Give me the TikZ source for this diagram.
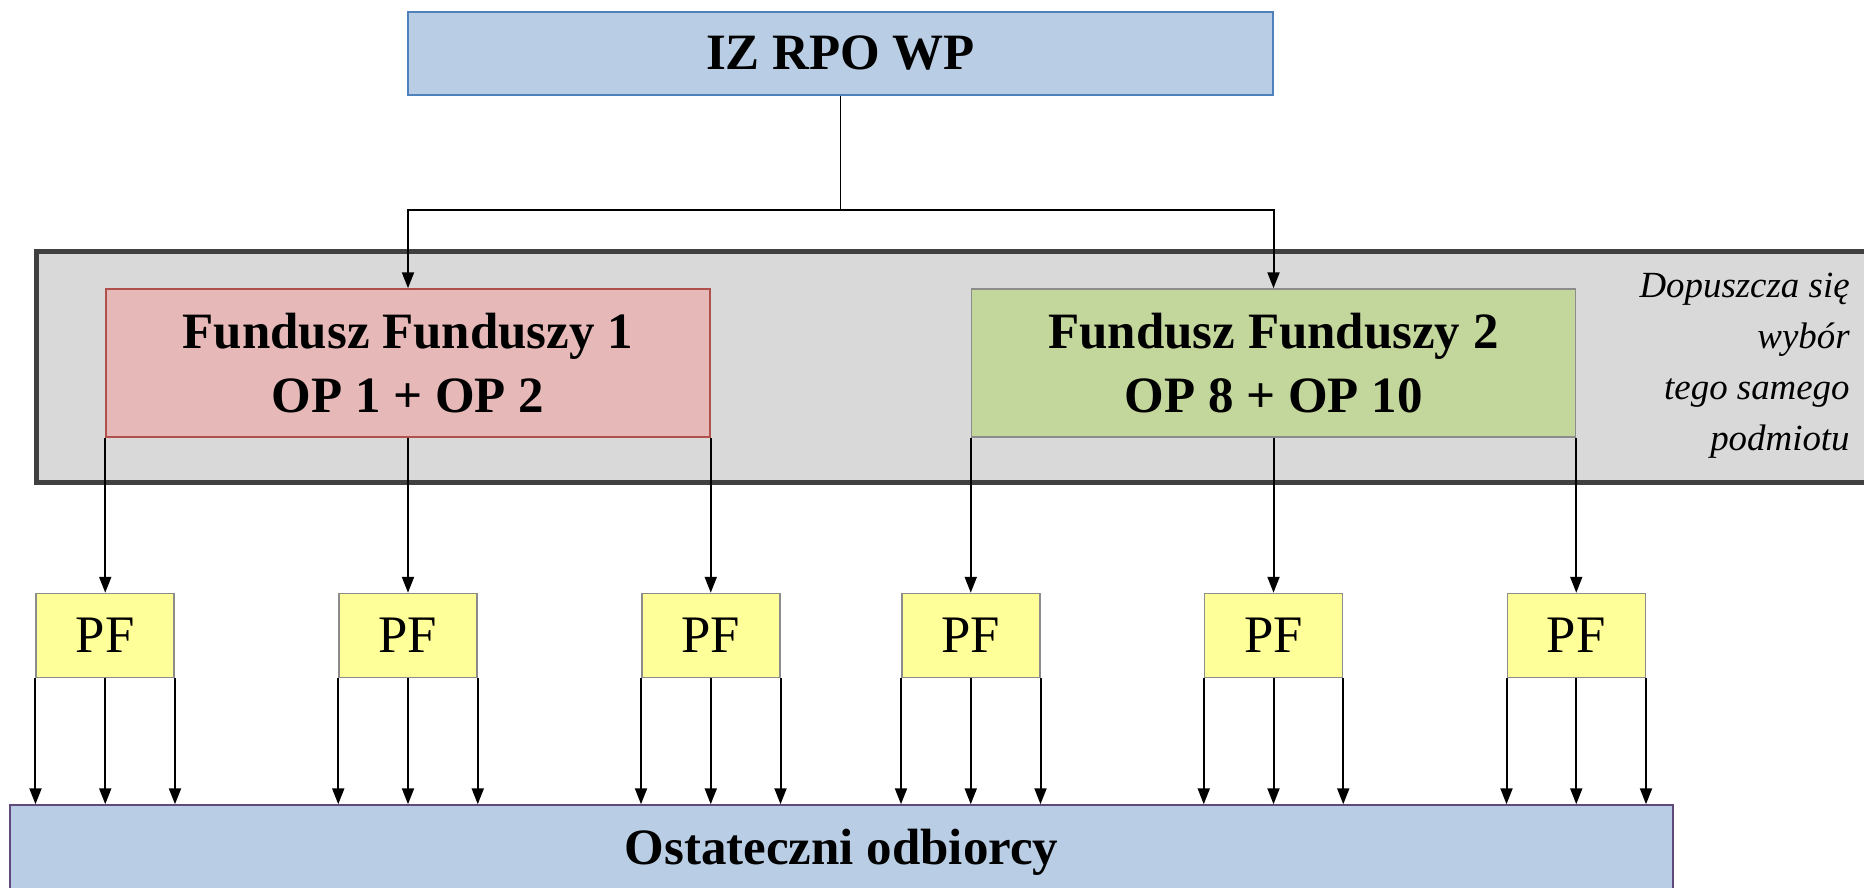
\documentclass[tikz,border=0pt]{standalone}
\usepackage{fontspec}
\setmainfont{Liberation Serif}
\usepackage{xcolor}
\usepackage{tikz}
\usetikzlibrary{arrows.meta,positioning}
\definecolor{izblue}{HTML}{B9CDE5}
\definecolor{izedge}{HTML}{4F81BD}
\definecolor{odedge}{HTML}{604A7B}
\definecolor{ffrose}{HTML}{E6B9B8}
\definecolor{ffroseedge}{HTML}{B0504D}
\definecolor{ffgreen}{HTML}{C3D69B}
\definecolor{pfyellow}{HTML}{FFFF99}
\definecolor{edgegray}{HTML}{8C8C8C}
\definecolor{panel}{HTML}{D9D9D9}
\definecolor{panedge}{HTML}{404040}
\tikzset{
  box/.style={draw=edgegray,line width=0.3mm,align=center,inner sep=0pt},
  boxiz/.style={box,draw=izedge,fill=izblue,minimum width=173mm,minimum height=16.6mm,font=\fontsize{29}{36}\selectfont\bfseries},
  boxff/.style={box,minimum width=120.8mm,minimum height=29.6mm,font=\fontsize{29}{36.4}\selectfont\bfseries},
  boxpf/.style={box,fill=pfyellow,minimum width=27.6mm,minimum height=16.8mm,font=\fontsize{30}{36}\selectfont},
  boxod/.style={box,draw=odedge,fill=izblue,minimum width=332.6mm,minimum height=18.8mm,font=\fontsize{29}{36}\selectfont\bfseries},
  panelbox/.style={draw=panedge,fill=panel,line width=1mm,inner sep=0pt},
  note/.style={font=\fontsize{21}{29}\selectfont\itshape,align=right,inner sep=0pt},
  arr/.style={-{Triangle[length=3.2mm,width=2.4mm]},line width=0.4mm},
}
\begin{document}
\begin{tikzpicture}[x=0.2mm,y=-0.2mm]
\useasboundingbox (0,0) rectangle (1864,887);
\clip (0,0) rectangle (1864,887);
\node[panelbox,minimum width=372.6mm,minimum height=46.2mm] (grp) at (968.5,366.5) {};
\node[boxiz] (iz) at (840.5,53.5) {IZ RPO WP};
\node[boxff,draw=ffroseedge,fill=ffrose] (ff1) at (408,363) {Fundusz Funduszy 1\\OP 1 + OP 2};
\node[boxff,fill=ffgreen] (ff2) at (1273.5,363) {Fundusz Funduszy 2\\OP 8 + OP 10};
\node[note,anchor=east] (uw) at (1850,366) {Dopuszcza się\\wybór\\tego samego\\podmiotu};
\coordinate (split) at (840.5,210);
\draw[line width=0.35mm](iz.south)--(split);
\draw[arr](split)-|(ff1.north);\draw[arr](split)-|(ff2.north);
% posrednicy finansowi
\node[boxpf,below=31mm of ff1.south west] (pf1) {PF};
\node[boxpf,below=31mm of ff1.south] (pf2) {PF};
\node[boxpf,below=31mm of ff1.south east] (pf3) {PF};
\node[boxpf,below=31mm of ff2.south west] (pf4) {PF};
\node[boxpf,below=31mm of ff2.south] (pf5) {PF};
\node[boxpf,below=31mm of ff2.south east] (pf6) {PF};
\draw[arr](ff1.south west)--(pf1);\draw[arr](ff1.south)--(pf2);\draw[arr](ff1.south east)--(pf3);
\draw[arr](ff2.south west)--(pf4);\draw[arr](ff2.south)--(pf5);\draw[arr](ff2.south east)--(pf6);
\node[boxod] (od) at (841.5,852) {Ostateczni odbiorcy};
\draw[arr](pf1.south west)--(pf1.south west|-od.north);\draw[arr](pf1.south)--(pf1.south|-od.north);\draw[arr](pf1.south east)--(pf1.south east|-od.north);
\draw[arr](pf2.south west)--(pf2.south west|-od.north);\draw[arr](pf2.south)--(pf2.south|-od.north);\draw[arr](pf2.south east)--(pf2.south east|-od.north);
\draw[arr](pf3.south west)--(pf3.south west|-od.north);\draw[arr](pf3.south)--(pf3.south|-od.north);\draw[arr](pf3.south east)--(pf3.south east|-od.north);
\draw[arr](pf4.south west)--(pf4.south west|-od.north);\draw[arr](pf4.south)--(pf4.south|-od.north);\draw[arr](pf4.south east)--(pf4.south east|-od.north);
\draw[arr](pf5.south west)--(pf5.south west|-od.north);\draw[arr](pf5.south)--(pf5.south|-od.north);\draw[arr](pf5.south east)--(pf5.south east|-od.north);
\draw[arr](pf6.south west)--(pf6.south west|-od.north);\draw[arr](pf6.south)--(pf6.south|-od.north);\draw[arr](pf6.south east)--(pf6.south east|-od.north);
\end{tikzpicture}
\end{document}
